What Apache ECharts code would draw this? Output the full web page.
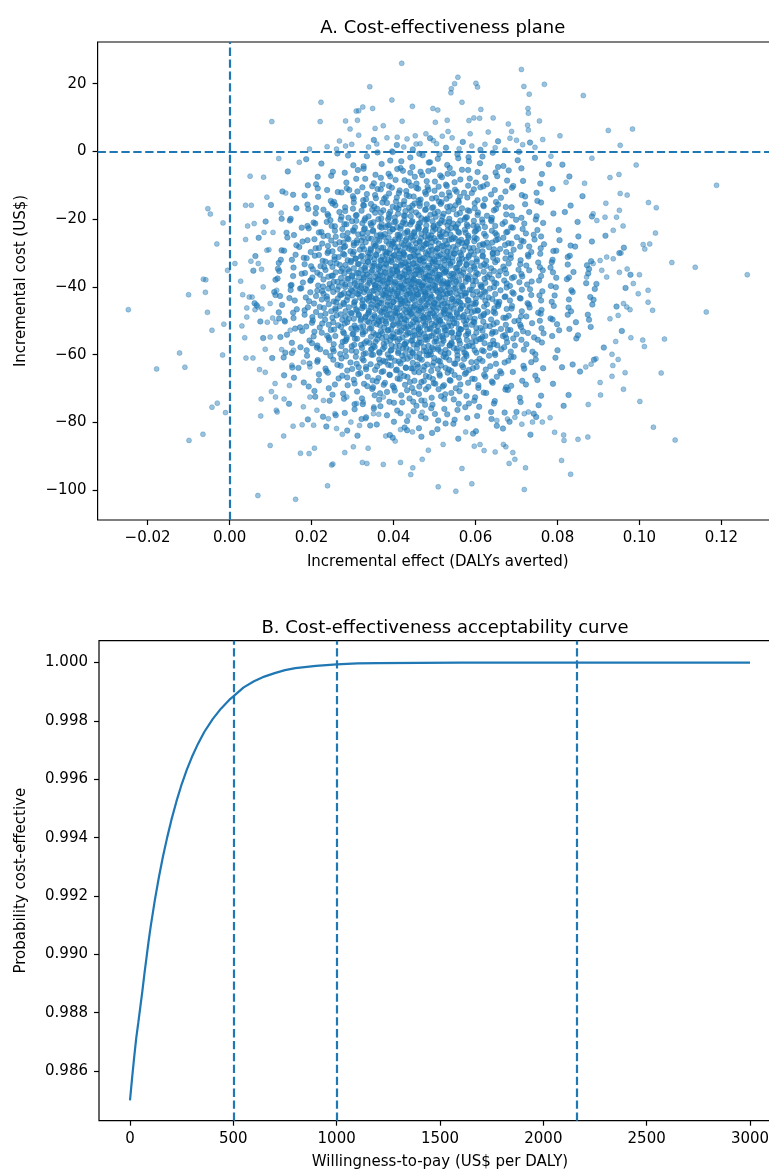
<!DOCTYPE html>
<html>
<head>
<meta charset="utf-8">
<script src="https://cdn.jsdelivr.net/npm/echarts@6/dist/echarts.min.js"></script>
<style>
html,body{margin:0;padding:0;background:#fff;}
#chart{width:769px;height:1173px;}
</style>
</head>
<body>
<div id="chart"></div>
<script>
// ---------- Text ----------
const titlePlane = 'A. Cost-effectiveness plane';
const titleCeac = 'B. Cost-effectiveness acceptability curve';
const labelEffect = 'Incremental effect (DALYs averted)';
const labelCost = 'Incremental cost (US$)';
const labelWtp = 'Willingness-to-pay (US$ per DALY)';
const labelProb = 'Probability cost-effective';

// ---------- Tick labels ----------
const effectTicks = [-0.02, 0, 0.02, 0.04, 0.06, 0.08, 0.10, 0.12];
const costTicks = [-100, -80, -60, -40, -20, 0, 20];
const wtpTicks = [0, 500, 1000, 1500, 2000, 2500, 3000];
const probTicks = [0.986, 0.988, 0.990, 0.992, 0.994, 0.996, 0.998, 1.000];

// ---------- Reference lines ----------
const effectRef = 0;
const costRef = 0;
const wtpThresholds = [500, 1000, 2160];

// ---------- CEAC ----------
const wtp = [0,10,20,30,40,50,60,70,80,90,100,120,140,160,180,200,225,250,275,300,330,360,400,440,480,500,550,600,650,700,750,800,900,1000,1100,1200,1400,1600,1800,2000,2500,3000];
const probCE = [0.98500,0.98575,0.98646,0.98712,0.98765,0.98820,0.98875,0.98935,0.98990,0.99045,0.99095,0.99185,0.99265,0.99337,0.99401,0.99460,0.99525,0.99583,0.99633,0.99677,0.99723,0.99763,0.99806,0.99842,0.99872,0.99884,0.99915,0.99936,0.99952,0.99964,0.99974,0.99981,0.99989,0.99994,0.99997,0.99998,0.99999,1.00000,1.00000,1.00000,1.00000,1.00000];

// ---------- PSA samples (effect, cost): sparse outer points ----------
const tailSamples = [
[0.0420,26.0],[0.0342,19.1],[0.0396,15.2],[0.0446,13.3],[0.0223,14.5],[0.0103,8.8],[0.0221,8.8],[0.0283,9.0],[0.0312,9.2],[0.0309,11.9],[0.0315,12.0],[0.0325,13.1],[0.0349,12.7],[0.0294,6.6],[0.0355,6.8],[0.0375,7.6],[0.0421,8.9],[0.0195,0.7],[0.0238,1.4],[0.0384,4.0],[0.0409,4.2],[0.0433,3.7],[0.0453,4.6],[0.0261,0.7],[0.0283,1.6],[0.0298,2.1],[0.0339,1.3],[0.0359,2.2],[0.0396,0.1],[0.0425,1.3],[0.0455,2.2],
[0.0712,24.2],[0.0557,21.9],[0.0549,20.0],[0.0541,18.5],[0.0540,17.3],[0.0601,20.1],[0.0605,19.0],[0.0718,19.2],[0.0768,19.8],[0.0863,16.5],[0.0567,14.5],[0.0731,16.9],[0.0496,12.7],[0.0508,12.2],[0.0502,8.6],[0.0531,9.2],[0.0584,9.1],[0.0596,9.9],[0.0610,9.8],[0.0613,12.4],[0.0643,9.9],[0.0680,8.1],[0.0728,12.7],[0.0729,11.3],[0.0756,9.0],[0.0727,7.7],[0.0729,6.3],[0.0688,5.9],[0.0700,3.3],[0.0764,3.5],[0.0806,4.6],[0.0924,6.2],[0.0983,6.6],[0.0953,1.8],[0.0631,5.7],[0.0587,5.2],[0.0543,4.0],[0.0533,5.9],[0.0519,4.5],[0.0479,5.2],[0.0623,2.1],[0.0648,1.1],[0.0715,2.0],[0.0465,2.3],[0.0497,3.2],[0.0505,2.3],[0.0560,0.8],[0.0591,1.6],[0.0672,0.4],[0.0745,1.2],[0.0684,3.9],[0.0315,4.8],[0.0268,3.1],
[0.0884,-2.0],[0.0784,-1.4],[0.0992,-4.0],[0.0928,-7.7],[0.0950,-6.8],[0.1188,-10.0],[0.0953,-12.4],[0.0970,-12.9],[0.1022,-15.1],[0.1041,-16.6],[0.0918,-15.3],[0.0951,-17.4],[0.0960,-22.0],[0.1039,-24.1],[0.1009,-27.5],[0.1013,-28.8],[0.1025,-27.3],[0.1079,-32.8],[0.1136,-34.2],[0.1263,-36.4],[0.0866,-9.4],[0.0821,-9.1],[0.0955,-30.0],[0.0970,-34.7],[0.0951,-35.7],[0.0904,-32.2],[0.0920,-31.2],[0.0936,-31.7],[0.0887,-33.1],[0.0908,-35.1],[0.0871,-37.1],[0.0920,-37.1],[0.1000,-36.4],[0.0896,-20.4],[0.0887,-18.4],[0.0916,-19.4],[0.0936,-23.3],[0.0944,-19.4],[0.0985,-39.0],[0.0997,-42.0],[0.1021,-41.0],[0.1021,-44.5],[0.1032,-46.9],[0.0961,-44.9],[0.0969,-45.9],[0.0977,-46.7],[0.0948,-48.4],[0.0928,-49.4],
[-0.0053,-16.9],[-0.0047,-18.5],[-0.0016,-21.1],[-0.0031,-27.3],[-0.0005,-35.1],[0.0013,-33.1],[-0.0064,-37.7],[0.0050,-7.3],[0.0083,-7.6],[0.0091,-13.5],[0.0039,-15.9],[0.0053,-15.9],[0.0120,-2.1],[0.0170,-3.2],[0.0044,-22.0],[0.0060,-21.3],[0.0039,-26.0],[0.0084,-23.9],[0.0106,-23.9],[0.0126,-18.2],[0.0137,-12.3],[0.0091,-29.2],[0.0096,-29.0],[0.0070,-33.1],[0.0078,-34.8],[0.0052,-32.4],
[-0.0247,-46.7],[-0.0100,-42.3],[-0.0058,-37.9],[-0.0059,-41.6],[-0.0054,-47.5],[-0.0043,-52.8],[-0.0014,-51.0],[-0.0017,-60.1],[-0.0122,-59.5],[-0.0178,-64.2],[-0.0109,-63.7],[-0.0043,-75.5],[-0.0030,-74.3],[-0.0010,-77.1],[-0.0065,-83.5],[-0.0099,-85.3],
[0.0030,-51.5],[0.0037,-55.0],[0.0040,-61.0],[0.0057,-61.0],[0.0073,-64.4],[0.0087,-65.2],[0.0077,-73.1],[0.0076,-78.1],[0.0111,-68.5],[0.0112,-72.5],[0.0102,-70.9],[0.0114,-76.4],[0.0116,-76.9],[0.0132,-84.0],[0.0146,-69.1],[0.0133,-73.1],[0.0027,-38.3],[0.0032,-42.3],[0.0048,-43.0],[0.0055,-43.0],[0.0069,-45.9],[0.0099,-44.9],[0.0092,-50.4],[0.0105,-49.2],[0.0113,-50.4],[0.0079,-46.5],[0.0062,-46.7],[0.0042,-46.2],[0.0087,-58.4],[0.0127,-58.5],[0.0156,-58.7],[0.0152,-63.1],[0.0180,-62.2],[0.0196,-63.6],[0.0099,-54.8],[0.0134,-49.9],[0.0148,-52.8],[0.0042,-48.9],[0.0115,-41.0],[0.0082,-40.0],
[0.0069,-101.6],[0.0161,-102.7],[0.0239,-98.7],[0.0249,-92.6],[0.0252,-92.3],[0.0173,-89.1],[0.0194,-89.2],[0.0207,-87.6],[0.0099,-86.8],[0.0155,-81.1],[0.0177,-80.7],[0.0205,-80.8],[0.0281,-88.9],[0.0302,-87.2],[0.0324,-91.8],[0.0335,-92.1],[0.0338,-87.6],[0.0375,-92.4],[0.0417,-91.8],[0.0442,-95.4],[0.0447,-93.4],
[0.0241,-78.9],[0.0257,-77.4],[0.0261,-81.8],[0.0275,-83.5],[0.0296,-79.9],[0.0317,-80.9],[0.0332,-78.9],[0.0352,-75.4],[0.0364,-77.6],[0.0381,-84.0],[0.0404,-85.5],[0.0417,-82.1],[0.0436,-78.1],[0.0446,-82.8],[0.0470,-77.0],[0.0476,-73.5],[0.0180,-75.4],[0.0213,-76.4],[0.0229,-73.5],[0.0196,-72.5],[0.0286,-72.5],[0.0310,-74.4],[0.0326,-74.0],[0.0351,-77.4],[0.0375,-72.5],
[0.1163,-47.4],[0.1061,-55.4],[0.1008,-55.7],[0.1012,-57.6],[0.0979,-55.0],[0.1053,-65.4],[0.1001,-73.8],[0.1034,-81.4],[0.1087,-85.2],[0.0961,-70.2],[0.0965,-65.3],[0.0933,-66.4],[0.0935,-63.2],[0.0948,-61.4],[0.0933,-59.9],[0.0942,-56.1],[0.0894,-61.2],[0.0882,-62.8],[0.0869,-63.6],[0.0904,-68.2],[0.0905,-71.9],[0.0875,-74.7],[0.0874,-84.3],[0.0850,-85.0],[0.0832,-95.3],[0.0810,-91.2],[0.0815,-83.7],[0.0816,-85.3],[0.0793,-82.9],[0.0719,-99.8],[0.0509,-99.0],[0.0552,-100.3],[0.0591,-98.1],[0.0567,-93.6],[0.0722,-93.4],[0.0696,-90.9],[0.0682,-92.1],[0.0691,-88.9],[0.0668,-86.5],[0.0674,-87.2],[0.0648,-88.7],[0.0621,-88.3],[0.0611,-86.5],[0.0597,-87.0],[0.0485,-88.2],[0.0470,-90.9],[0.0521,-86.5],[0.0576,-82.8],[0.0713,-80.5],[0.0739,-79.9],[0.0763,-79.9],[0.0782,-78.6],[0.0729,-76.9],[0.0719,-77.4],[0.0696,-78.5],[0.0678,-79.0],[0.0652,-79.4]
];

// ---------- PSA samples (effect, cost): central cloud, first layer ----------
const coreSamples = [
[0.0187,-2.3],[0.0263,-0.6],[0.0302,-4.1],[0.0335,-1.4],[0.0371,-3.7],[0.0398,-0.2],[0.0419,-2.9],[0.0446,-4.6],[0.0471,-1.1],[0.0489,-3.2],[0.0512,-0.8],[0.0537,-4.9],[0.0558,-2.0],[0.0583,-1.7],[0.0611,-3.5],[0.0642,-0.4],[0.0668,-4.3],[0.0703,-2.6],[0.0745,-1.9],[0.0812,-3.9],
[0.0142,-5.9],[0.0211,-9.7],[0.0248,-7.2],[0.0281,-6.3],[0.0309,-8.1],[0.0327,-5.1],[0.0352,-9.4],[0.0369,-7.8],[0.0388,-6.6],[0.0405,-8.4],[0.0423,-5.7],[0.0437,-9.0],[0.0452,-7.5],[0.0466,-6.0],[0.0481,-8.8],[0.0497,-5.3],[0.0514,-7.1],[0.0528,-9.8],[0.0545,-6.5],[0.0563,-8.3],[0.0582,-5.5],[0.0601,-9.2],[0.0624,-7.7],[0.0649,-6.2],[0.0677,-8.6],[0.0712,-5.0],[0.0758,-9.5],[0.0829,-7.4],
[0.0129,-11.8],[0.0183,-13.0],[0.0215,-10.9],[0.0247,-14.6],[0.0264,-12.0],[0.0292,-11.4],[0.0303,-13.9],[0.0324,-10.6],[0.0333,-14.1],[0.0355,-12.9],[0.0361,-11.1],[0.0381,-13.5],[0.0389,-10.2],[0.0406,-14.8],[0.0413,-12.3],[0.0431,-11.7],[0.0438,-13.2],[0.0456,-10.8],[0.0461,-14.4],[0.0479,-12.6],[0.0485,-11.3],[0.0504,-13.7],[0.0510,-10.4],[0.0529,-14.0],[0.0535,-12.1],[0.0554,-11.9],[0.0562,-13.4],[0.0582,-10.1],[0.0591,-12.3],[0.0612,-10.6],[0.0623,-14.1],[0.0647,-11.4],[0.0662,-13.7],[0.0692,-10.2],[0.0713,-12.9],[0.0751,-14.6],[0.0788,-11.1],[0.0861,-13.2],
[0.0101,-15.8],[0.0149,-19.9],[0.0192,-17.0],[0.0211,-16.7],[0.0239,-18.5],[0.0251,-15.4],[0.0273,-19.3],[0.0282,-17.6],[0.0301,-16.9],[0.0308,-18.9],[0.0326,-15.9],[0.0331,-19.7],[0.0348,-17.2],[0.0353,-16.3],[0.0369,-18.1],[0.0373,-15.1],[0.0389,-19.4],[0.0392,-17.8],[0.0407,-16.6],[0.0411,-18.4],[0.0425,-15.7],[0.0428,-19.0],[0.0443,-17.5],[0.0446,-16.0],[0.0461,-18.8],[0.0464,-15.3],[0.0479,-17.1],[0.0482,-19.8],[0.0497,-16.5],[0.0500,-18.3],[0.0515,-15.5],[0.0519,-19.2],[0.0534,-17.7],[0.0538,-16.2],[0.0554,-18.6],[0.0559,-15.0],[0.0576,-19.5],[0.0581,-17.4],[0.0598,-16.8],[0.0606,-18.0],[0.0619,-15.9],[0.0640,-19.6],[0.0650,-17.0],[0.0674,-16.4],[0.0689,-18.9],[0.0721,-15.6],[0.0749,-19.1],[0.0818,-17.9],
[0.0088,-20.7],[0.0139,-24.0],[0.0176,-22.5],[0.0205,-21.0],[0.0224,-23.8],[0.0246,-20.3],[0.0257,-22.1],[0.0276,-24.8],[0.0285,-21.5],[0.0301,-23.3],[0.0309,-20.5],[0.0324,-24.2],[0.0330,-22.7],[0.0344,-21.2],[0.0350,-23.6],[0.0363,-20.0],[0.0368,-24.5],[0.0381,-22.4],[0.0386,-21.8],[0.0398,-23.0],[0.0402,-20.9],[0.0414,-24.6],[0.0418,-22.0],[0.0430,-21.4],[0.0434,-23.9],[0.0446,-20.6],[0.0450,-24.1],[0.0461,-22.9],[0.0465,-21.1],[0.0477,-23.5],[0.0481,-20.2],[0.0492,-24.8],[0.0497,-22.3],[0.0508,-21.7],[0.0512,-23.2],[0.0524,-20.8],[0.0528,-24.4],[0.0540,-22.6],[0.0545,-21.3],[0.0558,-23.7],[0.0563,-20.4],[0.0576,-24.0],[0.0581,-22.1],[0.0595,-21.9],[0.0601,-23.4],[0.0616,-20.1],[0.0623,-22.3],[0.0639,-20.6],[0.0648,-24.1],[0.0666,-21.4],[0.0678,-23.7],[0.0699,-20.2],[0.0715,-22.9],[0.0742,-24.6],[0.0765,-21.1],[0.0803,-23.2],[0.0849,-20.8],[0.0917,-24.9],
[0.0071,-25.5],[0.0127,-29.2],[0.0163,-27.7],[0.0190,-26.2],[0.0210,-28.6],[0.0229,-25.0],[0.0241,-29.5],[0.0258,-27.4],[0.0268,-26.8],[0.0282,-28.0],[0.0290,-25.9],[0.0303,-29.6],[0.0310,-27.0],[0.0322,-26.4],[0.0328,-28.9],[0.0339,-25.6],[0.0345,-29.1],[0.0355,-27.9],[0.0360,-26.1],[0.0370,-28.5],[0.0375,-25.2],[0.0384,-29.8],[0.0389,-27.3],[0.0398,-26.7],[0.0403,-28.2],[0.0412,-25.8],[0.0416,-29.4],[0.0425,-27.6],[0.0429,-26.3],[0.0438,-28.7],[0.0442,-25.4],[0.0451,-29.0],[0.0455,-27.1],[0.0464,-26.9],[0.0468,-28.4],[0.0477,-25.1],[0.0481,-27.3],[0.0490,-25.6],[0.0494,-29.1],[0.0503,-26.4],[0.0508,-28.7],[0.0517,-25.2],[0.0522,-27.9],[0.0531,-29.6],[0.0536,-26.1],[0.0546,-28.2],[0.0551,-25.8],[0.0562,-29.9],[0.0567,-27.0],[0.0579,-26.7],[0.0585,-28.5],[0.0598,-25.4],[0.0605,-29.3],[0.0620,-27.6],[0.0628,-26.9],[0.0645,-28.9],[0.0655,-25.9],[0.0675,-29.7],[0.0688,-27.2],[0.0712,-26.3],[0.0731,-28.1],[0.0760,-25.1],[0.0790,-29.4],[0.0832,-27.8],[0.0884,-26.6],[0.0962,-28.4],
[0.0063,-30.9],[0.0118,-34.6],[0.0152,-32.0],[0.0181,-31.4],[0.0199,-33.9],[0.0218,-30.6],[0.0231,-34.1],[0.0246,-32.9],[0.0256,-31.1],[0.0269,-33.5],[0.0277,-30.2],[0.0289,-34.8],[0.0296,-32.3],[0.0307,-31.7],[0.0313,-33.2],[0.0323,-30.8],[0.0329,-34.4],[0.0338,-32.6],[0.0343,-31.3],[0.0352,-33.7],[0.0357,-30.4],[0.0365,-34.0],[0.0370,-32.1],[0.0378,-31.9],[0.0382,-33.4],[0.0390,-30.1],[0.0394,-32.3],[0.0402,-30.6],[0.0406,-34.1],[0.0414,-31.4],[0.0418,-33.7],[0.0425,-30.2],[0.0429,-32.9],[0.0437,-34.6],[0.0441,-31.1],[0.0448,-33.2],[0.0452,-30.8],[0.0460,-34.9],[0.0464,-32.0],[0.0471,-31.7],[0.0475,-33.5],[0.0483,-30.4],[0.0487,-34.3],[0.0495,-32.6],[0.0499,-31.9],[0.0507,-33.9],[0.0511,-30.9],[0.0520,-34.7],[0.0524,-32.2],[0.0533,-31.3],[0.0538,-33.1],[0.0547,-30.1],[0.0552,-34.4],[0.0562,-32.8],[0.0567,-31.6],[0.0578,-33.4],[0.0584,-30.7],[0.0596,-34.0],[0.0603,-32.5],[0.0617,-31.0],[0.0626,-33.8],[0.0642,-30.3],[0.0653,-32.1],[0.0672,-34.8],[0.0686,-31.5],[0.0709,-33.3],[0.0728,-30.5],[0.0757,-34.2],[0.0786,-32.7],[0.0825,-31.2],[0.0872,-33.6],[0.0951,-30.0],
[0.0058,-35.2],[0.0112,-37.9],[0.0149,-39.6],[0.0176,-36.1],[0.0197,-38.2],[0.0214,-35.8],[0.0228,-39.9],[0.0241,-37.0],[0.0252,-36.7],[0.0263,-38.5],[0.0272,-35.4],[0.0282,-39.3],[0.0290,-37.6],[0.0299,-36.9],[0.0306,-38.9],[0.0314,-35.9],[0.0321,-39.7],[0.0328,-37.2],[0.0335,-36.3],[0.0342,-38.1],[0.0348,-35.1],[0.0355,-39.4],[0.0361,-37.8],[0.0367,-36.6],[0.0373,-38.4],[0.0379,-35.7],[0.0385,-39.0],[0.0391,-37.5],[0.0397,-36.0],[0.0403,-38.8],[0.0408,-35.3],[0.0414,-37.1],[0.0420,-39.8],[0.0426,-36.5],[0.0431,-38.3],[0.0437,-35.5],[0.0443,-39.2],[0.0448,-37.7],[0.0454,-36.2],[0.0460,-38.6],[0.0466,-35.0],[0.0471,-39.5],[0.0477,-37.4],[0.0483,-36.8],[0.0489,-38.0],[0.0495,-35.9],[0.0501,-39.6],[0.0507,-37.0],[0.0513,-36.4],[0.0519,-38.9],[0.0526,-35.6],[0.0532,-39.1],[0.0539,-37.9],[0.0546,-36.1],[0.0553,-38.5],[0.0560,-35.2],[0.0568,-39.8],[0.0576,-37.3],[0.0584,-36.7],[0.0593,-38.2],[0.0602,-35.8],[0.0612,-39.4],[0.0622,-37.6],[0.0634,-36.3],[0.0646,-38.7],[0.0660,-35.4],[0.0676,-39.0],[0.0694,-37.1],[0.0714,-36.9],[0.0737,-38.4],[0.0764,-35.1],[0.0797,-37.3],[0.0839,-35.6],[0.0895,-39.1],[0.0978,-36.4],[0.0531,-38.7],
[0.0061,-44.8],[0.0109,-41.5],[0.0146,-43.3],[0.0172,-40.5],[0.0194,-44.2],[0.0211,-42.7],[0.0226,-41.2],[0.0238,-43.6],[0.0250,-40.0],[0.0260,-44.5],[0.0270,-42.4],[0.0279,-41.8],[0.0288,-43.0],[0.0296,-40.9],[0.0304,-44.6],[0.0311,-42.0],[0.0318,-41.4],[0.0325,-43.9],[0.0332,-40.6],[0.0339,-44.1],[0.0345,-42.9],[0.0352,-41.1],[0.0358,-43.5],[0.0364,-40.2],[0.0370,-44.8],[0.0376,-42.3],[0.0382,-41.7],[0.0388,-43.2],[0.0394,-40.8],[0.0400,-44.4],[0.0406,-42.6],[0.0411,-41.3],[0.0417,-43.7],[0.0423,-40.4],[0.0429,-44.0],[0.0434,-42.1],[0.0440,-41.9],[0.0446,-43.4],[0.0452,-40.1],[0.0457,-42.3],[0.0463,-40.6],[0.0469,-44.1],[0.0475,-41.4],[0.0481,-43.7],[0.0487,-40.2],[0.0493,-42.9],[0.0499,-44.6],[0.0505,-41.1],[0.0511,-43.2],[0.0518,-40.8],[0.0524,-44.9],[0.0531,-42.0],[0.0537,-41.7],[0.0544,-43.5],[0.0551,-40.4],[0.0559,-44.3],[0.0566,-42.6],[0.0574,-41.9],[0.0583,-43.9],[0.0591,-40.9],[0.0601,-44.7],[0.0611,-42.2],[0.0621,-41.3],[0.0632,-43.1],[0.0645,-40.1],[0.0658,-44.4],[0.0673,-42.8],[0.0690,-41.6],[0.0710,-43.4],[0.0733,-40.7],[0.0760,-44.0],[0.0793,-42.5],[0.0834,-41.0],[0.0888,-43.8],[0.0966,-40.3],[0.0478,-42.1],
[0.0066,-45.4],[0.0121,-49.3],[0.0155,-47.6],[0.0183,-46.9],[0.0202,-48.9],[0.0220,-45.9],[0.0233,-49.7],[0.0248,-47.2],[0.0258,-46.3],[0.0271,-48.1],[0.0279,-45.1],[0.0291,-49.4],[0.0298,-47.8],[0.0309,-46.6],[0.0315,-48.4],[0.0325,-45.7],[0.0331,-49.0],[0.0340,-47.5],[0.0345,-46.0],[0.0354,-48.8],[0.0359,-45.3],[0.0367,-47.1],[0.0372,-49.8],[0.0380,-46.5],[0.0384,-48.3],[0.0392,-45.5],[0.0396,-49.2],[0.0404,-47.7],[0.0408,-46.2],[0.0416,-48.6],[0.0420,-45.0],[0.0427,-49.5],[0.0431,-47.4],[0.0439,-46.8],[0.0443,-48.0],[0.0450,-45.9],[0.0454,-49.6],[0.0462,-47.0],[0.0466,-46.4],[0.0473,-48.9],[0.0477,-45.6],[0.0485,-49.1],[0.0489,-47.9],[0.0497,-46.1],[0.0501,-48.5],[0.0509,-45.2],[0.0513,-49.8],[0.0522,-47.3],[0.0526,-46.7],[0.0535,-48.2],[0.0540,-45.8],[0.0549,-49.4],[0.0554,-47.6],[0.0564,-46.3],[0.0569,-48.7],[0.0580,-45.4],[0.0586,-49.0],[0.0598,-47.1],[0.0605,-46.9],[0.0619,-48.4],[0.0628,-45.1],[0.0644,-47.3],[0.0655,-45.6],[0.0674,-49.1],[0.0688,-46.4],[0.0711,-48.7],[0.0730,-45.2],[0.0759,-47.9],[0.0788,-49.6],[0.0827,-46.1],[0.0874,-48.2],[0.0944,-45.8],
[0.0075,-50.2],[0.0124,-54.8],[0.0160,-52.3],[0.0187,-51.7],[0.0207,-53.2],[0.0226,-50.8],[0.0238,-54.4],[0.0255,-52.6],[0.0265,-51.3],[0.0279,-53.7],[0.0287,-50.4],[0.0300,-54.0],[0.0307,-52.1],[0.0319,-51.9],[0.0325,-53.4],[0.0336,-50.1],[0.0342,-52.3],[0.0352,-50.6],[0.0357,-54.1],[0.0367,-51.4],[0.0372,-53.7],[0.0381,-50.2],[0.0386,-52.9],[0.0395,-54.6],[0.0400,-51.1],[0.0409,-53.2],[0.0413,-50.8],[0.0422,-54.9],[0.0426,-52.0],[0.0435,-51.7],[0.0439,-53.5],[0.0448,-50.4],[0.0452,-54.3],[0.0461,-52.6],[0.0465,-51.9],[0.0474,-53.9],[0.0478,-50.9],[0.0487,-54.7],[0.0491,-52.2],[0.0500,-51.3],[0.0505,-53.1],[0.0514,-50.1],[0.0519,-54.4],[0.0528,-52.8],[0.0533,-51.6],[0.0543,-53.4],[0.0548,-50.7],[0.0559,-54.0],[0.0564,-52.5],[0.0576,-51.0],[0.0582,-53.8],[0.0595,-50.3],[0.0602,-52.1],[0.0617,-54.8],[0.0625,-51.5],[0.0642,-53.3],[0.0652,-50.5],[0.0672,-54.2],[0.0685,-52.7],[0.0709,-51.2],[0.0728,-53.6],[0.0757,-50.0],[0.0787,-54.5],[0.0829,-52.4],[0.0881,-51.8],[0.0957,-53.0],
[0.0082,-55.1],[0.0136,-59.4],[0.0173,-57.8],[0.0201,-56.6],[0.0221,-58.4],[0.0243,-55.7],[0.0254,-59.0],[0.0273,-57.5],[0.0282,-56.0],[0.0298,-58.8],[0.0306,-55.3],[0.0321,-57.1],[0.0327,-59.8],[0.0341,-56.5],[0.0347,-58.3],[0.0360,-55.5],[0.0365,-59.2],[0.0378,-57.7],[0.0383,-56.2],[0.0395,-58.6],[0.0399,-55.0],[0.0411,-59.5],[0.0415,-57.4],[0.0427,-56.8],[0.0431,-58.0],[0.0443,-55.9],[0.0447,-59.6],[0.0458,-57.0],[0.0462,-56.4],[0.0474,-58.9],[0.0478,-55.6],[0.0489,-59.1],[0.0494,-57.9],[0.0505,-56.1],[0.0509,-58.5],[0.0521,-55.2],[0.0525,-59.8],[0.0537,-57.3],[0.0542,-56.7],[0.0555,-58.2],[0.0560,-55.8],[0.0573,-59.4],[0.0578,-57.6],[0.0592,-56.3],[0.0598,-58.7],[0.0613,-55.4],[0.0620,-59.0],[0.0636,-57.1],[0.0645,-56.9],[0.0663,-58.4],[0.0675,-55.1],[0.0696,-57.3],[0.0712,-55.6],[0.0739,-59.1],[0.0762,-56.4],[0.0800,-58.7],[0.0846,-55.2],[0.0913,-57.9],
[0.0104,-61.0],[0.0153,-63.8],[0.0189,-60.3],[0.0214,-62.1],[0.0236,-64.8],[0.0253,-61.5],[0.0271,-63.3],[0.0284,-60.5],[0.0299,-64.2],[0.0310,-62.7],[0.0324,-61.2],[0.0333,-63.6],[0.0346,-60.0],[0.0355,-64.5],[0.0367,-62.4],[0.0375,-61.8],[0.0387,-63.0],[0.0394,-60.9],[0.0406,-64.6],[0.0413,-62.0],[0.0424,-61.4],[0.0430,-63.9],[0.0441,-60.6],[0.0447,-64.1],[0.0458,-62.9],[0.0464,-61.1],[0.0475,-63.5],[0.0481,-60.2],[0.0492,-64.8],[0.0498,-62.3],[0.0509,-61.7],[0.0516,-63.2],[0.0528,-60.8],[0.0535,-64.4],[0.0548,-62.6],[0.0556,-61.3],[0.0570,-63.7],[0.0578,-60.4],[0.0594,-64.0],[0.0603,-62.1],[0.0617,-61.9],[0.0636,-63.4],[0.0648,-60.1],[0.0671,-62.3],[0.0687,-60.6],[0.0719,-64.1],[0.0747,-61.4],[0.0811,-63.7],
[0.0133,-66.1],[0.0181,-68.2],[0.0218,-65.8],[0.0242,-69.9],[0.0266,-67.0],[0.0287,-66.7],[0.0305,-68.5],[0.0319,-65.4],[0.0336,-69.3],[0.0349,-67.6],[0.0363,-66.9],[0.0376,-68.9],[0.0390,-65.9],[0.0401,-69.7],[0.0415,-67.2],[0.0426,-66.3],[0.0440,-68.1],[0.0451,-65.1],[0.0463,-69.4],[0.0474,-67.8],[0.0487,-66.6],[0.0498,-68.4],[0.0512,-65.7],[0.0523,-69.0],[0.0537,-67.5],[0.0549,-66.0],[0.0563,-68.8],[0.0577,-65.3],[0.0592,-67.1],[0.0607,-69.8],[0.0624,-66.5],[0.0642,-68.3],[0.0663,-65.5],[0.0687,-69.2],[0.0714,-67.7],[0.0746,-66.2],[0.0789,-68.6],[0.0855,-65.0],
[0.0145,-74.5],[0.0209,-72.4],[0.0251,-71.8],[0.0279,-73.0],[0.0311,-70.9],[0.0325,-74.6],[0.0354,-72.0],[0.0367,-71.4],[0.0390,-73.9],[0.0403,-70.6],[0.0421,-74.1],[0.0439,-72.9],[0.0450,-71.1],[0.0468,-73.5],[0.0479,-70.2],[0.0495,-74.8],[0.0516,-72.3],[0.0526,-71.7],[0.0547,-73.2],[0.0561,-70.8],[0.0584,-74.4],[0.0599,-72.6],[0.0626,-71.3],[0.0647,-73.7],[0.0679,-70.4],[0.0710,-74.0],[0.0760,-72.1],[0.0827,-71.9],
[0.0191,-79.1],[0.0259,-77.9],[0.0305,-76.1],[0.0333,-78.5],[0.0368,-75.2],[0.0401,-79.8],[0.0417,-77.3],[0.0449,-76.7],[0.0467,-78.2],[0.0492,-75.8],[0.0509,-79.4],[0.0531,-77.6],[0.0556,-76.3],[0.0580,-78.7],[0.0609,-75.4],[0.0639,-79.0],[0.0671,-77.1],[0.0700,-76.9],[0.0748,-78.4],[0.0815,-75.1],
[0.0236,-81.2],[0.0312,-83.9],[0.0359,-80.6],[0.0398,-84.5],[0.0433,-82.3],[0.0462,-81.7],[0.0494,-83.1],[0.0527,-80.3],[0.0558,-84.8],[0.0601,-82.6],[0.0652,-81.0],[0.0734,-83.6]
];

// ---------- PSA samples (effect, cost): central cloud, second layer ----------
const coreSamples2 = [
[0.0352,3.4],[0.0408,1.9],[0.0447,0.6],[0.0489,3.9],[0.0528,1.1],[0.0569,2.8],[0.0612,0.5],[0.0655,3.0],[0.0733,2.6],
[0.0224,-3.6],[0.0289,-1.2],[0.0327,-4.4],[0.0361,-0.3],[0.0392,-2.7],[0.0417,-4.9],[0.0441,-1.8],[0.0463,-0.7],[0.0486,-3.3],[0.0508,-2.2],[0.0531,-4.0],[0.0556,-0.9],[0.0584,-2.9],[0.0617,-1.5],[0.0655,-4.6],[0.0706,-0.1],[0.0779,-3.8],
[0.0215,-7.5],[0.0252,-6.0],[0.0285,-9.2],[0.0313,-5.5],[0.0331,-8.1],[0.0356,-6.9],[0.0373,-9.8],[0.0392,-7.4],[0.0409,-5.2],[0.0427,-8.5],[0.0441,-6.3],[0.0456,-9.5],[0.0470,-7.0],[0.0485,-5.8],[0.0501,-8.9],[0.0518,-7.6],[0.0532,-6.6],[0.0549,-9.1],[0.0567,-5.4],[0.0586,-8.0],[0.0605,-6.1],[0.0628,-9.7],[0.0653,-7.3],[0.0681,-5.6],[0.0716,-8.7],[0.0762,-6.7],
[0.0155,-12.8],[0.0191,-10.0],[0.0216,-13.4],[0.0238,-11.4],[0.0255,-14.9],[0.0273,-12.1],[0.0286,-10.9],[0.0301,-13.2],[0.0312,-11.8],[0.0326,-14.4],[0.0335,-12.6],[0.0348,-10.3],[0.0357,-13.8],[0.0369,-11.2],[0.0377,-14.0],[0.0389,-12.4],[0.0396,-10.7],[0.0408,-13.6],[0.0415,-11.5],[0.0426,-14.6],[0.0432,-12.9],[0.0443,-10.1],[0.0449,-13.3],[0.0460,-11.0],[0.0466,-14.2],[0.0477,-12.0],[0.0483,-10.5],[0.0494,-13.9],[0.0500,-11.6],[0.0511,-14.8],[0.0518,-12.7],[0.0530,-10.2],[0.0537,-13.1],[0.0550,-11.3],[0.0558,-14.5],[0.0572,-12.2],[0.0580,-13.6],[0.0596,-11.2],[0.0605,-14.4],[0.0619,-10.3],[0.0638,-12.7],[0.0650,-14.9],[0.0673,-11.8],[0.0689,-10.7],[0.0721,-13.3],[0.0749,-12.2],
[0.0127,-19.9],[0.0163,-16.8],[0.0190,-15.7],[0.0210,-18.3],[0.0229,-17.2],[0.0241,-19.0],[0.0258,-15.9],[0.0268,-17.9],[0.0282,-16.5],[0.0290,-19.6],[0.0303,-15.1],[0.0310,-18.8],[0.0322,-17.5],[0.0328,-16.0],[0.0339,-19.2],[0.0345,-15.5],[0.0355,-18.1],[0.0360,-16.9],[0.0370,-19.8],[0.0375,-17.4],[0.0384,-15.2],[0.0389,-18.5],[0.0398,-16.3],[0.0403,-19.5],[0.0412,-17.0],[0.0416,-15.8],[0.0425,-18.9],[0.0429,-17.6],[0.0438,-16.6],[0.0442,-19.1],[0.0451,-15.4],[0.0455,-18.0],[0.0464,-16.1],[0.0468,-19.7],[0.0477,-17.3],[0.0481,-15.6],[0.0490,-18.7],[0.0494,-16.7],[0.0503,-19.3],[0.0508,-17.8],[0.0517,-15.0],[0.0522,-18.4],[0.0531,-16.4],[0.0536,-19.9],[0.0546,-17.1],[0.0551,-15.9],[0.0562,-18.2],[0.0567,-16.8],[0.0579,-19.4],[0.0585,-17.6],[0.0598,-15.3],[0.0605,-18.8],[0.0620,-16.2],[0.0628,-19.0],[0.0645,-17.4],[0.0655,-15.7],[0.0675,-18.6],[0.0688,-16.5],[0.0712,-19.6],[0.0731,-17.9],[0.0760,-15.1],[0.0790,-18.3],[0.0832,-16.0],[0.0884,-19.2],
[0.0147,-20.4],[0.0190,-22.0],[0.0209,-21.3],[0.0237,-20.8],[0.0249,-22.0],[0.0271,-20.2],[0.0280,-21.5],[0.0299,-20.6],[0.0306,-22.4],[0.0324,-21.2],[0.0329,-20.3],[0.0346,-21.8],[0.0351,-20.9],[0.0367,-22.2],[0.0371,-21.4],[0.0387,-20.0],[0.0390,-21.7],[0.0405,-20.7],[0.0409,-22.4],[0.0423,-21.0],[0.0426,-20.4],[0.0441,-21.6],[0.0444,-20.9],[0.0459,-22.2],[0.0462,-21.3],[0.0477,-20.2],[0.0480,-21.9],[0.0495,-20.6],[0.0498,-22.0],[0.0513,-21.2],[0.0517,-20.4],[0.0532,-21.8],[0.0536,-20.8],[0.0552,-22.3],[0.0557,-21.4],[0.0574,-20.0],[0.0579,-21.6],[0.0596,-20.5],[0.0604,-22.1],[0.0617,-21.0],[0.0638,-20.2],[0.0648,-22.0],[0.0672,-20.8],[0.0687,-22.4],[0.0719,-21.3],[0.0747,-20.1],
[0.0157,-24.7],[0.0193,-22.7],[0.0218,-23.9],[0.0240,-24.9],[0.0257,-23.4],[0.0275,-22.9],[0.0288,-24.1],[0.0303,-23.6],[0.0314,-24.5],[0.0328,-23.0],[0.0337,-24.0],[0.0350,-23.3],[0.0359,-24.8],[0.0371,-22.5],[0.0379,-24.4],[0.0391,-23.7],[0.0398,-23.0],[0.0410,-24.6],[0.0417,-22.8],[0.0428,-24.1],[0.0434,-23.5],[0.0445,-24.9],[0.0451,-23.7],[0.0462,-22.6],[0.0468,-24.3],[0.0479,-23.2],[0.0485,-24.7],[0.0496,-23.5],[0.0502,-22.9],[0.0513,-24.5],[0.0520,-23.8],[0.0532,-23.3],[0.0539,-24.5],[0.0552,-22.7],[0.0560,-24.0],[0.0574,-23.1],[0.0582,-24.9],[0.0598,-23.7],[0.0607,-22.8],[0.0621,-24.3],[0.0640,-23.4],[0.0652,-24.7],[0.0675,-23.9],[0.0691,-22.5],[0.0723,-24.2],[0.0751,-23.2],
[0.0141,-25.4],[0.0178,-26.6],[0.0207,-25.9],[0.0226,-27.2],[0.0248,-26.3],[0.0259,-25.2],[0.0278,-26.9],[0.0287,-25.6],[0.0303,-27.0],[0.0311,-26.2],[0.0326,-25.4],[0.0332,-26.8],[0.0346,-25.8],[0.0352,-27.3],[0.0365,-26.4],[0.0370,-25.0],[0.0383,-26.6],[0.0388,-25.5],[0.0400,-27.1],[0.0404,-26.0],[0.0416,-25.2],[0.0420,-27.0],[0.0432,-25.8],[0.0436,-27.4],[0.0448,-26.3],[0.0452,-25.1],[0.0463,-26.5],[0.0467,-25.6],[0.0479,-27.2],[0.0483,-26.1],[0.0494,-26.8],[0.0499,-25.6],[0.0510,-27.2],[0.0514,-25.2],[0.0526,-26.4],[0.0530,-27.4],[0.0542,-25.9],[0.0547,-25.4],[0.0560,-26.6],[0.0565,-26.1],[0.0578,-27.0],[0.0583,-25.5],[0.0597,-26.5],[0.0603,-25.8],[0.0618,-27.3],[0.0625,-25.0],[0.0641,-26.9],[0.0650,-26.2],[0.0668,-25.5],[0.0680,-27.1],[0.0701,-25.3],[0.0717,-26.6],[0.0744,-26.0],[0.0767,-27.4],[0.0805,-26.2],[0.0851,-25.1],
[0.0133,-29.3],[0.0170,-28.2],[0.0198,-29.7],[0.0218,-28.5],[0.0240,-27.9],[0.0251,-29.5],[0.0270,-28.8],[0.0279,-28.3],[0.0295,-29.5],[0.0303,-27.7],[0.0318,-29.0],[0.0324,-28.1],[0.0338,-29.9],[0.0344,-28.7],[0.0357,-27.8],[0.0362,-29.3],[0.0375,-28.4],[0.0380,-29.7],[0.0392,-28.9],[0.0396,-27.5],[0.0408,-29.2],[0.0412,-28.2],[0.0424,-29.9],[0.0428,-28.5],[0.0440,-27.9],[0.0444,-29.1],[0.0455,-28.4],[0.0459,-29.7],[0.0471,-28.8],[0.0475,-27.7],[0.0486,-29.4],[0.0491,-28.1],[0.0502,-29.5],[0.0506,-28.7],[0.0518,-27.9],[0.0522,-29.3],[0.0534,-28.3],[0.0539,-29.8],[0.0552,-28.9],[0.0557,-27.5],[0.0570,-29.1],[0.0575,-28.0],[0.0589,-29.6],[0.0595,-28.5],[0.0610,-27.7],[0.0617,-29.5],[0.0633,-28.3],[0.0642,-29.9],[0.0660,-28.8],[0.0672,-27.6],[0.0693,-29.0],[0.0709,-28.1],[0.0736,-29.7],[0.0759,-28.6],[0.0797,-29.3],[0.0843,-28.1],
[0.0125,-32.0],[0.0161,-30.5],[0.0188,-31.5],[0.0208,-30.8],[0.0227,-32.3],[0.0239,-30.0],[0.0256,-31.9],[0.0266,-31.2],[0.0280,-30.5],[0.0288,-32.1],[0.0301,-30.3],[0.0308,-31.6],[0.0320,-31.0],[0.0326,-32.4],[0.0337,-31.2],[0.0343,-30.1],[0.0353,-31.8],[0.0358,-30.7],[0.0368,-32.2],[0.0373,-31.0],[0.0382,-30.4],[0.0387,-32.0],[0.0396,-31.3],[0.0401,-30.8],[0.0410,-32.0],[0.0414,-30.2],[0.0423,-31.5],[0.0427,-30.6],[0.0436,-32.4],[0.0440,-31.2],[0.0449,-30.3],[0.0453,-31.8],[0.0462,-30.9],[0.0466,-32.2],[0.0475,-31.4],[0.0479,-30.0],[0.0488,-31.7],[0.0492,-30.7],[0.0501,-32.4],[0.0506,-31.0],[0.0515,-30.4],[0.0520,-31.6],[0.0529,-30.9],[0.0534,-32.2],[0.0544,-31.3],[0.0549,-30.2],[0.0560,-31.9],[0.0565,-30.6],[0.0577,-32.0],[0.0583,-31.2],[0.0596,-30.4],[0.0603,-31.8],[0.0618,-30.8],[0.0626,-32.3],[0.0643,-31.4],[0.0653,-30.0],[0.0673,-31.6],[0.0686,-30.5],[0.0710,-32.1],[0.0729,-31.0],[0.0758,-30.2],[0.0788,-32.0],[0.0830,-30.8],[0.0882,-32.4],
[0.0120,-32.9],[0.0156,-34.3],[0.0183,-33.3],[0.0203,-34.8],[0.0222,-33.9],[0.0234,-32.5],[0.0251,-34.1],[0.0261,-33.0],[0.0275,-34.6],[0.0283,-33.5],[0.0296,-32.7],[0.0303,-34.5],[0.0315,-33.3],[0.0321,-34.9],[0.0332,-33.8],[0.0338,-32.6],[0.0348,-34.0],[0.0353,-33.1],[0.0363,-34.7],[0.0368,-33.6],[0.0377,-34.3],[0.0382,-33.1],[0.0391,-34.7],[0.0396,-32.7],[0.0405,-33.9],[0.0409,-34.9],[0.0418,-33.4],[0.0422,-32.9],[0.0431,-34.1],[0.0435,-33.6],[0.0444,-34.5],[0.0448,-33.0],[0.0457,-34.0],[0.0461,-33.3],[0.0470,-34.8],[0.0474,-32.5],[0.0483,-34.4],[0.0487,-33.7],[0.0496,-33.0],[0.0501,-34.6],[0.0510,-32.8],[0.0515,-34.1],[0.0524,-33.5],[0.0529,-34.9],[0.0539,-33.7],[0.0544,-32.6],[0.0555,-34.3],[0.0560,-33.2],[0.0572,-34.7],[0.0578,-33.5],[0.0591,-32.9],[0.0598,-34.5],[0.0613,-33.8],[0.0621,-33.3],[0.0638,-34.5],[0.0648,-32.7],[0.0668,-34.0],[0.0681,-33.1],[0.0705,-34.9],[0.0724,-33.7],[0.0753,-32.8],[0.0783,-34.3],[0.0825,-33.4],[0.0877,-34.7],
[0.0121,-35.3],[0.0155,-36.8],[0.0184,-35.9],[0.0202,-37.2],[0.0221,-36.4],[0.0234,-35.0],[0.0249,-36.7],[0.0259,-35.7],[0.0272,-37.4],[0.0280,-36.0],[0.0292,-35.4],[0.0299,-36.6],[0.0310,-35.9],[0.0316,-37.2],[0.0326,-36.3],[0.0332,-35.2],[0.0341,-36.9],[0.0346,-35.6],[0.0355,-37.0],[0.0360,-36.2],[0.0368,-35.4],[0.0373,-36.8],[0.0381,-35.8],[0.0385,-37.3],[0.0393,-36.4],[0.0397,-35.0],[0.0405,-36.6],[0.0409,-35.5],[0.0417,-37.1],[0.0421,-36.0],[0.0428,-35.2],[0.0432,-37.0],[0.0440,-35.8],[0.0444,-37.4],[0.0451,-36.3],[0.0455,-35.1],[0.0463,-36.5],[0.0467,-35.6],[0.0474,-37.2],[0.0478,-36.1],[0.0486,-36.8],[0.0490,-35.6],[0.0498,-37.2],[0.0502,-35.2],[0.0510,-36.4],[0.0514,-37.4],[0.0523,-35.9],[0.0527,-35.4],[0.0536,-36.6],[0.0541,-36.1],[0.0550,-37.0],[0.0555,-35.5],[0.0565,-36.5],[0.0570,-35.8],[0.0581,-37.3],[0.0587,-35.0],[0.0599,-36.9],[0.0606,-36.2],[0.0620,-35.5],[0.0629,-37.1],[0.0645,-35.3],[0.0656,-36.6],[0.0675,-36.0],[0.0689,-37.4],[0.0712,-36.2],[0.0731,-35.1],[0.0760,-36.8],[0.0789,-35.7],[0.0828,-37.2],[0.0875,-36.0],
[0.0117,-37.5],[0.0151,-39.4],[0.0179,-38.7],[0.0198,-38.0],[0.0216,-39.6],[0.0229,-37.8],[0.0244,-39.1],[0.0254,-38.5],[0.0267,-39.9],[0.0275,-38.7],[0.0287,-37.6],[0.0294,-39.3],[0.0305,-38.2],[0.0311,-39.7],[0.0321,-38.5],[0.0327,-37.9],[0.0336,-39.5],[0.0341,-38.8],[0.0350,-38.3],[0.0355,-39.5],[0.0363,-37.7],[0.0368,-39.0],[0.0376,-38.1],[0.0380,-39.9],[0.0388,-38.7],[0.0392,-37.8],[0.0400,-39.3],[0.0404,-38.4],[0.0412,-39.7],[0.0416,-38.9],[0.0423,-37.5],[0.0427,-39.2],[0.0435,-38.2],[0.0439,-39.9],[0.0446,-38.5],[0.0450,-37.9],[0.0458,-39.1],[0.0462,-38.4],[0.0469,-39.7],[0.0473,-38.8],[0.0481,-37.7],[0.0485,-39.4],[0.0493,-38.1],[0.0497,-39.5],[0.0505,-38.7],[0.0509,-37.9],[0.0518,-39.3],[0.0522,-38.3],[0.0531,-39.8],[0.0536,-38.9],[0.0545,-37.5],[0.0550,-39.1],[0.0560,-38.0],[0.0565,-39.6],[0.0576,-38.5],[0.0582,-37.7],[0.0594,-39.5],[0.0601,-38.3],[0.0615,-39.9],[0.0624,-38.8],[0.0640,-37.6],[0.0651,-39.0],[0.0670,-38.1],[0.0684,-39.7],[0.0707,-38.6],[0.0726,-39.3],[0.0755,-38.1],[0.0784,-39.7],[0.0823,-37.7],[0.0870,-38.9],
[0.0112,-42.4],[0.0149,-40.9],[0.0175,-40.4],[0.0197,-41.6],[0.0214,-41.1],[0.0229,-42.0],[0.0241,-40.5],[0.0253,-41.5],[0.0263,-40.8],[0.0273,-42.3],[0.0282,-40.0],[0.0291,-41.9],[0.0299,-41.2],[0.0307,-40.5],[0.0314,-42.1],[0.0321,-40.3],[0.0328,-41.6],[0.0335,-41.0],[0.0342,-42.4],[0.0348,-41.2],[0.0355,-40.1],[0.0361,-41.8],[0.0367,-40.7],[0.0373,-42.2],[0.0379,-41.0],[0.0385,-40.4],[0.0391,-42.0],[0.0397,-41.3],[0.0403,-40.8],[0.0409,-42.0],[0.0414,-40.2],[0.0420,-41.5],[0.0426,-40.6],[0.0432,-42.4],[0.0437,-41.2],[0.0443,-40.3],[0.0449,-41.8],[0.0455,-40.9],[0.0460,-42.2],[0.0466,-41.4],[0.0472,-40.0],[0.0478,-41.7],[0.0484,-40.7],[0.0490,-42.4],[0.0496,-41.0],[0.0502,-40.4],[0.0508,-41.6],[0.0514,-40.9],[0.0521,-42.2],[0.0527,-41.3],[0.0534,-40.2],[0.0540,-41.9],[0.0547,-40.6],[0.0554,-42.0],[0.0562,-41.2],[0.0569,-40.4],[0.0577,-41.8],[0.0586,-40.8],[0.0594,-42.3],[0.0604,-41.4],[0.0614,-40.0],[0.0624,-41.6],[0.0635,-40.5],[0.0648,-42.1],[0.0661,-41.0],[0.0676,-40.2],[0.0693,-42.0],[0.0713,-40.8],[0.0736,-42.4],[0.0763,-41.3],[0.0796,-40.1],[0.0837,-41.5],[0.0891,-40.6],
[0.0123,-42.7],[0.0159,-44.0],[0.0186,-43.1],[0.0206,-44.9],[0.0225,-43.7],[0.0237,-42.8],[0.0254,-44.3],[0.0264,-43.4],[0.0278,-44.7],[0.0286,-43.9],[0.0299,-42.5],[0.0306,-44.2],[0.0318,-43.2],[0.0324,-44.9],[0.0335,-43.5],[0.0341,-42.9],[0.0351,-44.1],[0.0356,-43.4],[0.0366,-44.7],[0.0371,-43.8],[0.0380,-42.7],[0.0385,-44.4],[0.0394,-43.1],[0.0399,-44.5],[0.0408,-43.7],[0.0412,-42.9],[0.0421,-44.3],[0.0425,-43.3],[0.0434,-44.8],[0.0438,-43.9],[0.0447,-42.5],[0.0451,-44.1],[0.0460,-43.0],[0.0464,-44.6],[0.0473,-43.5],[0.0477,-42.7],[0.0486,-44.5],[0.0490,-43.3],[0.0499,-44.9],[0.0504,-43.8],[0.0513,-42.6],[0.0518,-44.0],[0.0527,-43.1],[0.0532,-44.7],[0.0542,-43.6],[0.0547,-44.3],[0.0558,-43.1],[0.0563,-44.7],[0.0575,-42.7],[0.0581,-43.9],[0.0594,-44.9],[0.0601,-43.4],[0.0616,-42.9],[0.0624,-44.1],[0.0641,-43.6],[0.0651,-44.5],[0.0671,-43.0],[0.0684,-44.0],[0.0708,-43.3],[0.0727,-44.8],[0.0756,-42.5],[0.0786,-44.4],[0.0828,-43.7],[0.0880,-43.0],
[0.0128,-45.3],[0.0164,-46.6],[0.0191,-46.0],[0.0211,-47.4],[0.0230,-46.2],[0.0242,-45.1],[0.0259,-46.8],[0.0269,-45.7],[0.0283,-47.2],[0.0291,-46.0],[0.0304,-45.4],[0.0311,-47.0],[0.0323,-46.3],[0.0329,-45.8],[0.0340,-47.0],[0.0346,-45.2],[0.0356,-46.5],[0.0361,-45.6],[0.0371,-47.4],[0.0376,-46.2],[0.0385,-45.3],[0.0390,-46.8],[0.0399,-45.9],[0.0404,-47.2],[0.0413,-46.4],[0.0417,-45.0],[0.0426,-46.7],[0.0430,-45.7],[0.0439,-47.4],[0.0443,-46.0],[0.0452,-45.4],[0.0456,-46.6],[0.0465,-45.9],[0.0469,-47.2],[0.0478,-46.3],[0.0482,-45.2],[0.0491,-46.9],[0.0495,-45.6],[0.0504,-47.0],[0.0509,-46.2],[0.0518,-45.4],[0.0523,-46.8],[0.0532,-45.8],[0.0537,-47.3],[0.0547,-46.4],[0.0552,-45.0],[0.0563,-46.6],[0.0568,-45.5],[0.0580,-47.1],[0.0586,-46.0],[0.0599,-45.2],[0.0606,-47.0],[0.0621,-45.8],[0.0629,-47.4],[0.0646,-46.3],[0.0656,-45.1],[0.0676,-46.5],[0.0689,-45.6],[0.0713,-47.2],[0.0732,-46.1],[0.0761,-46.8],[0.0791,-45.6],[0.0833,-47.2],[0.0885,-45.2],
[0.0120,-47.5],[0.0156,-49.2],[0.0183,-48.2],[0.0203,-49.9],[0.0222,-48.5],[0.0234,-47.9],[0.0251,-49.1],[0.0261,-48.4],[0.0275,-49.7],[0.0283,-48.8],[0.0296,-47.7],[0.0303,-49.4],[0.0315,-48.1],[0.0321,-49.5],[0.0332,-48.7],[0.0338,-47.9],[0.0348,-49.3],[0.0353,-48.3],[0.0363,-49.8],[0.0368,-48.9],[0.0377,-47.5],[0.0382,-49.1],[0.0391,-48.0],[0.0396,-49.6],[0.0405,-48.5],[0.0409,-47.7],[0.0418,-49.5],[0.0422,-48.3],[0.0431,-49.9],[0.0435,-48.8],[0.0444,-47.6],[0.0448,-49.0],[0.0457,-48.1],[0.0461,-49.7],[0.0470,-48.6],[0.0474,-49.3],[0.0483,-48.1],[0.0487,-49.7],[0.0496,-47.7],[0.0501,-48.9],[0.0510,-49.9],[0.0515,-48.4],[0.0524,-47.9],[0.0529,-49.1],[0.0539,-48.6],[0.0544,-49.5],[0.0555,-48.0],[0.0560,-49.0],[0.0572,-48.3],[0.0578,-49.8],[0.0591,-47.5],[0.0598,-49.4],[0.0613,-48.7],[0.0621,-48.0],[0.0638,-49.6],[0.0648,-47.8],[0.0668,-49.1],[0.0681,-48.5],[0.0705,-49.9],[0.0724,-48.7],[0.0753,-47.6],[0.0783,-49.3],[0.0825,-48.2],[0.0877,-49.7],
[0.0135,-50.2],[0.0172,-51.9],[0.0201,-50.6],[0.0220,-52.0],[0.0242,-51.2],[0.0253,-50.4],[0.0272,-51.8],[0.0281,-50.8],[0.0297,-52.3],[0.0305,-51.4],[0.0320,-50.0],[0.0326,-51.6],[0.0340,-50.5],[0.0346,-52.1],[0.0359,-51.0],[0.0364,-50.2],[0.0377,-52.0],[0.0382,-50.8],[0.0394,-52.4],[0.0398,-51.3],[0.0410,-50.1],[0.0414,-51.5],[0.0426,-50.6],[0.0430,-52.2],[0.0442,-51.1],[0.0446,-51.8],[0.0457,-50.6],[0.0461,-52.2],[0.0473,-50.2],[0.0477,-51.4],[0.0488,-52.4],[0.0493,-50.9],[0.0504,-50.4],[0.0508,-51.6],[0.0520,-51.1],[0.0524,-52.0],[0.0536,-50.5],[0.0541,-51.5],[0.0554,-50.8],[0.0559,-52.3],[0.0572,-50.0],[0.0577,-51.9],[0.0591,-51.2],[0.0597,-50.5],[0.0612,-52.1],[0.0619,-50.3],[0.0635,-51.6],[0.0644,-51.0],[0.0662,-52.4],[0.0674,-51.2],[0.0695,-50.1],[0.0711,-51.8],[0.0738,-50.7],[0.0761,-52.2],[0.0799,-51.0],[0.0845,-50.4],
[0.0140,-54.1],[0.0177,-53.0],[0.0205,-54.6],[0.0225,-53.5],[0.0247,-52.7],[0.0258,-54.5],[0.0277,-53.3],[0.0286,-54.9],[0.0302,-53.8],[0.0310,-52.6],[0.0325,-54.0],[0.0331,-53.1],[0.0345,-54.7],[0.0351,-53.6],[0.0364,-54.3],[0.0369,-53.1],[0.0382,-54.7],[0.0387,-52.7],[0.0399,-53.9],[0.0403,-54.9],[0.0415,-53.4],[0.0419,-52.9],[0.0431,-54.1],[0.0435,-53.6],[0.0447,-54.5],[0.0451,-53.0],[0.0462,-54.0],[0.0466,-53.3],[0.0478,-54.8],[0.0482,-52.5],[0.0493,-54.4],[0.0498,-53.7],[0.0509,-53.0],[0.0513,-54.6],[0.0525,-52.8],[0.0529,-54.1],[0.0541,-53.5],[0.0546,-54.9],[0.0559,-53.7],[0.0564,-52.6],[0.0577,-54.3],[0.0582,-53.2],[0.0596,-54.7],[0.0602,-53.5],[0.0617,-52.9],[0.0624,-54.5],[0.0640,-53.8],[0.0649,-53.3],[0.0667,-54.5],[0.0679,-52.7],[0.0700,-54.0],[0.0716,-53.1],[0.0743,-54.9],[0.0766,-53.7],[0.0804,-52.8],[0.0850,-54.3],
[0.0152,-56.5],[0.0195,-55.8],[0.0214,-57.3],[0.0242,-55.0],[0.0254,-56.9],[0.0276,-56.2],[0.0285,-55.5],[0.0304,-57.1],[0.0311,-55.3],[0.0329,-56.6],[0.0334,-56.0],[0.0351,-57.4],[0.0356,-56.2],[0.0372,-55.1],[0.0376,-56.8],[0.0392,-55.7],[0.0395,-57.2],[0.0410,-56.0],[0.0414,-55.4],[0.0428,-57.0],[0.0431,-56.3],[0.0446,-55.8],[0.0449,-57.0],[0.0464,-55.2],[0.0467,-56.5],[0.0482,-55.6],[0.0485,-57.4],[0.0500,-56.2],[0.0503,-55.3],[0.0518,-56.8],[0.0522,-55.9],[0.0537,-57.2],[0.0541,-56.4],[0.0557,-55.0],[0.0562,-56.7],[0.0579,-55.7],[0.0584,-57.4],[0.0601,-56.0],[0.0609,-55.4],[0.0622,-56.6],[0.0643,-55.9],[0.0653,-57.2],[0.0677,-56.3],[0.0692,-55.2],[0.0724,-56.9],[0.0752,-55.6],
[0.0152,-59.5],[0.0188,-58.7],[0.0213,-57.9],[0.0235,-59.3],[0.0252,-58.3],[0.0270,-59.8],[0.0283,-58.9],[0.0298,-57.5],[0.0309,-59.1],[0.0323,-58.0],[0.0332,-59.6],[0.0345,-58.5],[0.0354,-57.7],[0.0366,-59.5],[0.0374,-58.3],[0.0386,-59.9],[0.0393,-58.8],[0.0405,-57.6],[0.0412,-59.0],[0.0423,-58.1],[0.0429,-59.7],[0.0440,-58.6],[0.0446,-59.3],[0.0457,-58.1],[0.0463,-59.7],[0.0474,-57.7],[0.0480,-58.9],[0.0491,-59.9],[0.0497,-58.4],[0.0508,-57.9],[0.0515,-59.1],[0.0527,-58.6],[0.0534,-59.5],[0.0547,-58.0],[0.0555,-59.0],[0.0569,-58.3],[0.0577,-59.8],[0.0593,-57.5],[0.0602,-59.4],[0.0616,-58.7],[0.0635,-58.0],[0.0647,-59.6],[0.0670,-57.8],[0.0686,-59.1],[0.0718,-58.5],[0.0746,-59.9],
[0.0132,-60.8],[0.0168,-63.9],[0.0195,-62.6],[0.0215,-61.6],[0.0234,-64.1],[0.0246,-60.4],[0.0263,-63.0],[0.0273,-61.1],[0.0287,-64.7],[0.0295,-62.3],[0.0308,-60.6],[0.0315,-63.7],[0.0327,-61.7],[0.0333,-64.3],[0.0344,-62.8],[0.0350,-60.0],[0.0360,-63.4],[0.0365,-61.4],[0.0375,-64.9],[0.0380,-62.1],[0.0389,-60.9],[0.0394,-63.2],[0.0403,-61.8],[0.0408,-64.4],[0.0417,-62.6],[0.0421,-60.3],[0.0430,-63.8],[0.0434,-61.2],[0.0443,-64.0],[0.0447,-62.4],[0.0456,-60.7],[0.0460,-63.6],[0.0469,-61.5],[0.0473,-64.6],[0.0482,-62.9],[0.0486,-60.1],[0.0495,-63.3],[0.0499,-61.0],[0.0508,-64.2],[0.0513,-62.0],[0.0522,-60.5],[0.0527,-63.9],[0.0536,-61.6],[0.0541,-64.8],[0.0551,-62.7],[0.0556,-60.2],[0.0567,-63.1],[0.0572,-61.3],[0.0584,-64.5],[0.0590,-62.2],[0.0603,-63.6],[0.0610,-61.2],[0.0625,-64.4],[0.0633,-60.3],[0.0650,-62.7],[0.0660,-64.9],[0.0680,-61.8],[0.0693,-60.7],[0.0717,-63.3],[0.0736,-62.2],[0.0765,-64.0],[0.0795,-60.9],[0.0837,-62.9],[0.0889,-61.5],
[0.0157,-66.8],[0.0193,-69.4],[0.0218,-67.6],[0.0240,-65.3],[0.0257,-68.8],[0.0275,-66.2],[0.0288,-69.0],[0.0303,-67.4],[0.0314,-65.7],[0.0328,-68.6],[0.0337,-66.5],[0.0350,-69.6],[0.0359,-67.9],[0.0371,-65.1],[0.0379,-68.3],[0.0391,-66.0],[0.0398,-69.2],[0.0410,-67.0],[0.0417,-65.5],[0.0428,-68.9],[0.0434,-66.6],[0.0445,-69.8],[0.0451,-67.7],[0.0462,-65.2],[0.0468,-68.1],[0.0479,-66.3],[0.0485,-69.5],[0.0496,-67.2],[0.0502,-68.6],[0.0513,-66.2],[0.0520,-69.4],[0.0532,-65.3],[0.0539,-67.7],[0.0552,-69.9],[0.0560,-66.8],[0.0574,-65.7],[0.0582,-68.3],[0.0598,-67.2],[0.0607,-69.0],[0.0621,-65.9],[0.0640,-67.9],[0.0652,-66.5],[0.0675,-69.6],[0.0691,-65.1],[0.0723,-68.8],[0.0751,-67.5],
[0.0207,-70.7],[0.0244,-73.6],[0.0277,-71.5],[0.0305,-74.6],[0.0323,-72.9],[0.0348,-70.1],[0.0365,-73.3],[0.0384,-71.0],[0.0401,-74.2],[0.0419,-72.0],[0.0433,-70.5],[0.0448,-73.9],[0.0462,-71.6],[0.0477,-74.8],[0.0493,-72.7],[0.0510,-70.2],[0.0524,-73.1],[0.0541,-71.3],[0.0559,-74.5],[0.0578,-72.2],[0.0597,-73.6],[0.0620,-71.2],[0.0645,-74.4],[0.0673,-70.3],[0.0708,-72.7],[0.0754,-74.9],
[0.0228,-78.3],[0.0281,-77.2],[0.0322,-79.0],[0.0352,-75.9],[0.0384,-77.9],[0.0409,-76.5],[0.0433,-79.6],[0.0456,-75.1],[0.0478,-78.8],[0.0501,-77.5],[0.0524,-76.0],[0.0549,-79.2],[0.0575,-75.5],[0.0604,-78.1],[0.0638,-76.9],[0.0683,-79.8],[0.0742,-77.4],
[0.0287,-82.4],[0.0343,-80.9],[0.0391,-83.7],[0.0427,-81.5],[0.0468,-84.2],[0.0507,-82.0],[0.0546,-80.4],[0.0594,-83.3],[0.0667,-81.8]
];

// ---------- Rendering ----------
const FONT = 'DejaVu Sans';
const BLUE = '#1f77b4';
const MINUS = '\u2212';
const onTick = (ticks, v) => ticks.some(t => Math.abs(t - v) < 1e-9);
const signed = s => s.replace('-', MINUS);

function axisCommon(ticks, fmt, name, nameGap) {
  return {
    type: 'value',
    name: name,
    nameLocation: 'middle',
    nameGap: nameGap,
    nameTextStyle: { fontFamily: FONT, fontSize: 15, color: '#000' },
    axisLine: { show: false, onZero: false },
    axisTick: { show: true, length: 5, customValues: ticks, lineStyle: { color: '#000', width: 1.2 } },
    axisLabel: {
      show: true, margin: 11, fontFamily: FONT, fontSize: 15, color: '#000',
      customValues: ticks,
      formatter: v => onTick(ticks, v) ? fmt(v) : ''
    },
    splitLine: { show: false },
    minInterval: ticks[1] - ticks[0],
    maxInterval: ticks[1] - ticks[0]
  };
}

const chart = echarts.init(document.getElementById('chart'), null, { renderer: 'canvas' });
const dash = [8.3, 3.6];
const dotStyle = op => ({ color: BLUE, opacity: op, borderColor: BLUE, borderWidth: 0.7 });

const option = {
  animation: false,
  backgroundColor: '#fff',
  textStyle: { fontFamily: FONT },
  title: [
    { text: titlePlane, left: 437.8, top: 14, textAlign: 'center',
      textStyle: { fontFamily: FONT, fontSize: 18, fontWeight: 'normal', color: '#000' } },
    { text: titleCeac, left: 440, top: 614, textAlign: 'center',
      textStyle: { fontFamily: FONT, fontSize: 18, fontWeight: 'normal', color: '#000' } }
  ],
  grid: [
    { left: 97.6, top: 42, width: 680.4, height: 478, show: true, borderColor: '#000', borderWidth: 1.2,
      backgroundColor: 'transparent', containLabel: false, outerBoundsMode: 'none' },
    { left: 99, top: 640.7, width: 682, height: 480, show: true, borderColor: '#000', borderWidth: 1.2,
      backgroundColor: 'transparent', containLabel: false, outerBoundsMode: 'none' }
  ],
  xAxis: [
    Object.assign(axisCommon(effectTicks, v => signed(v.toFixed(2)), labelEffect, 35),
      { gridIndex: 0, min: -0.0322, max: 0.1338 }),
    Object.assign(axisCommon(wtpTicks, v => String(Math.round(v)), labelWtp, 34),
      { gridIndex: 1, min: -150, max: 3150 })
  ],
  yAxis: [
    Object.assign(axisCommon(costTicks, v => signed(String(Math.round(v))), labelCost, 69),
      { gridIndex: 0, min: -108.8, max: 32.3 }),
    Object.assign(axisCommon(probTicks, v => v.toFixed(3), labelProb, 70.5),
      { gridIndex: 1, min: 0.98430, max: 1.00075 })
  ],
  series: [
    { type: 'scatter', xAxisIndex: 0, yAxisIndex: 0, data: tailSamples, symbol: 'circle', symbolSize: 5,
      itemStyle: dotStyle(0.45), emphasis: { disabled: true }, silent: true },
    { type: 'scatter', xAxisIndex: 0, yAxisIndex: 0, data: coreSamples, symbol: 'circle', symbolSize: 5.5,
      itemStyle: dotStyle(0.62), emphasis: { disabled: true }, silent: true },
    { type: 'scatter', xAxisIndex: 0, yAxisIndex: 0, data: coreSamples2, symbol: 'circle', symbolSize: 5.5,
      itemStyle: dotStyle(0.62), emphasis: { disabled: true }, silent: true,
      markLine: {
        silent: true, symbol: ['none', 'none'], label: { show: false },
        lineStyle: { color: BLUE, width: 2.2, type: dash, opacity: 1 },
        emphasis: { disabled: true },
        data: [{ xAxis: effectRef }, { yAxis: costRef }]
      }
    },
    {
      type: 'line', xAxisIndex: 1, yAxisIndex: 1,
      data: wtp.map((w, i) => [w, probCE[i]]),
      showSymbol: false, smooth: false,
      lineStyle: { color: BLUE, width: 2.2 },
      itemStyle: { color: BLUE },
      emphasis: { disabled: true }, silent: true,
      markLine: {
        silent: true, symbol: ['none', 'none'], label: { show: false },
        lineStyle: { color: BLUE, width: 2.2, type: dash, opacity: 1 },
        emphasis: { disabled: true },
        data: wtpThresholds.map(t => ({ xAxis: t }))
      }
    }
  ]
};
chart.setOption(option);
</script>
</body>
</html>
